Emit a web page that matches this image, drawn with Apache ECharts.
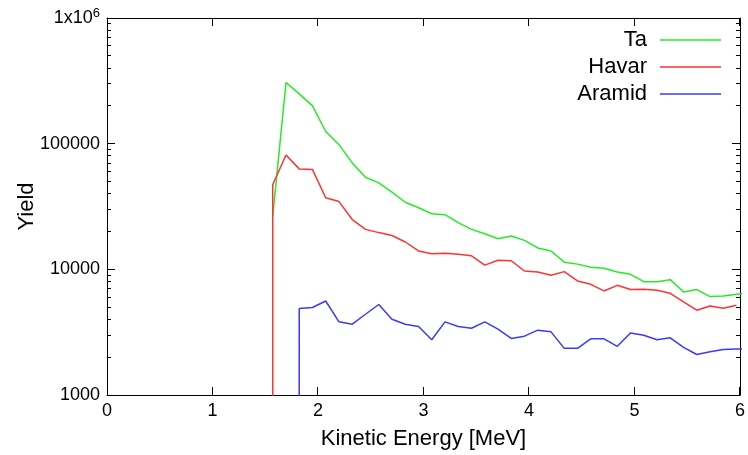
<!DOCTYPE html>
<html>
<head>
<meta charset="utf-8">
<script src="https://cdn.jsdelivr.net/npm/echarts@6/dist/echarts.min.js"></script>
<style>
html,body{margin:0;padding:0;background:#fff;}
#chart{width:748px;height:455px;}
</style>
</head>
<body>
<div id="chart"></div>
<script>
// ---- data ----
const energy = [1.571, 1.697, 1.822, 1.948, 2.073, 2.199, 2.325, 2.450, 2.576, 2.701,
  2.827, 2.953, 3.078, 3.204, 3.329, 3.455, 3.581, 3.706, 3.832, 3.957,
  4.083, 4.209, 4.334, 4.460, 4.585, 4.711, 4.837, 4.962, 5.088, 5.213,
  5.339, 5.465, 5.590, 5.716, 5.841, 5.967, 6.092];
const taYield = [26500, 307000, 249000, 200000, 125000, 98200, 70300, 54000, 48800, 41100,
  34200, 30900, 27700, 27200, 23500, 20800, 19200, 17500, 18400, 17000,
  14800, 14000, 11400, 11000, 10400, 10200, 9520, 9120, 7980, 7980,
  8280, 6600, 6900, 6070, 6140, 6330, 6450];
const havarYield = [47300, 81300, 63000, 62200, 37100, 34600, 24900, 20800, 19600, 18600,
  16500, 14000, 13300, 13400, 13200, 12800, 10800, 11800, 11700, 9700,
  9520, 8960, 9590, 8080, 7600, 6730, 7460, 6900, 6940, 6810,
  6450, 5500, 4730, 5110, 4900, 5180, null];
const aramidYield = [null, null, 4880, 4970, 5600, 3820, 3660, 4390, 5250, 4010,
  3660, 3510, 2750, 3820, 3510, 3400, 3820, 3340, 2820, 2940,
  3280, 3180, 2350, 2350, 2800, 2800, 2440, 3120, 2990, 2750,
  2850, 2390, 2100, 2210, 2300, 2320, 2330];
// yield just below the onset (below the axis floor, drawn as a vertical drop)
const havarOnset = {energy: 1.571, yield: 100};
const aramidOnset = {energy: 1.822, yield: 100};

const xTicks = [0, 1, 2, 3, 4, 5, 6];
const yMajorTicks = [1000, 10000, 100000, 1000000];
const yMinorTicks = [2000, 3000, 4000, 5000, 6000, 7000, 8000, 9000,
  20000, 30000, 40000, 50000, 60000, 70000, 80000, 90000,
  200000, 300000, 400000, 500000, 600000, 700000, 800000, 900000];

const X_MIN = 0, X_MAX = 6, Y_MIN = 1000, Y_MAX = 1000000;

function pairs(vals, onset) {
  const out = [];
  if (onset) out.push([onset.energy, onset.yield]);
  vals.forEach((v, i) => { if (v !== null) out.push([energy[i], v]); });
  return out;
}

const FONT = '"Liberation Sans", Arial, sans-serif';
const TICK_STYLE = {stroke: '#000', lineWidth: 1};
const chart = echarts.init(document.getElementById('chart'));

function crisp(v) { return Math.round(v - 0.5) + 0.5; }

// inward tick marks on all four sides, placed through the axes' own scales
function xTickRender(params, api) {
  const x = api.value(0);
  const b = api.coord([x, Y_MIN]);
  const t = api.coord([x, Y_MAX]);
  const px = crisp(b[0]);
  return {type: 'group', children: [
    {type: 'line', shape: {x1: px, y1: b[1], x2: px, y2: b[1] - 8}, style: TICK_STYLE},
    {type: 'line', shape: {x1: px, y1: t[1], x2: px, y2: t[1] + 8}, style: TICK_STYLE}
  ]};
}
function yTickRenderer(len) {
  return function (params, api) {
    const y = api.value(1);
    const l = api.coord([X_MIN, y]);
    const r = api.coord([X_MAX, y]);
    const py = crisp(l[1]);
    return {type: 'group', children: [
      {type: 'line', shape: {x1: l[0], y1: py, x2: l[0] + len, y2: py}, style: TICK_STYLE},
      {type: 'line', shape: {x1: r[0], y1: py, x2: r[0] - len, y2: py}, style: TICK_STYLE}
    ]};
  };
}

chart.setOption({
  animation: false,
  grid: {left: 107, right: 8, top: 18, bottom: 59},
  legend: {
    orient: 'vertical', align: 'right', right: 27, top: 29, padding: 0,
    icon: 'rect', itemWidth: 61, itemHeight: 1.5, itemGap: 5,
    textStyle: {fontSize: 22, fontFamily: FONT, color: '#000', lineHeight: 22, padding: [0, 8, 0, 0]},
    data: ['Ta', 'Havar', 'Aramid']
  },
  xAxis: [
    {type: 'value', min: X_MIN, max: X_MAX, interval: 1, position: 'bottom',
      name: 'Kinetic Energy [MeV]', nameLocation: 'middle', nameGap: 33, nameMoveOverlap: false,
      nameTextStyle: {fontSize: 22, fontFamily: FONT, color: '#000'},
      axisLine: {show: true, onZero: false, lineStyle: {color: '#000', width: 1}},
      axisTick: {show: false},
      axisLabel: {show: true, margin: 7, fontSize: 18, fontFamily: FONT, color: '#000'},
      splitLine: {show: false}},
    {type: 'value', min: X_MIN, max: X_MAX, interval: 1, position: 'top',
      axisLine: {show: true, onZero: false, lineStyle: {color: '#000', width: 1}},
      axisTick: {show: false}, axisLabel: {show: false}, splitLine: {show: false}}
  ],
  yAxis: [
    {type: 'log', min: Y_MIN, max: Y_MAX, position: 'left',
      name: 'Yield', nameLocation: 'middle', nameGap: 69, nameRotate: 90, nameMoveOverlap: false,
      nameTextStyle: {fontSize: 22, fontFamily: FONT, color: '#000'},
      axisLine: {show: true, onZero: false, lineStyle: {color: '#000', width: 1}},
      axisTick: {show: false},
      axisLabel: {show: true, customValues: yMajorTicks, margin: 7, color: '#000',
        fontFamily: FONT, fontSize: 18,
        formatter: function (v) { return v >= 999999 ? '1x10{sup|6}' : String(Math.round(v)); },
        rich: {sup: {fontSize: 13, fontFamily: FONT, color: '#000', verticalAlign: 'top', padding: [0, 0, 9, 0]}}},
      splitLine: {show: false}},
    {type: 'log', min: Y_MIN, max: Y_MAX, position: 'right',
      axisLine: {show: true, onZero: false, lineStyle: {color: '#000', width: 1}},
      axisTick: {show: false}, axisLabel: {show: false}, splitLine: {show: false}}
  ],
  series: [
    {name: 'Ta', type: 'line', data: pairs(taYield, null), symbol: 'none', z: 2,
      lineStyle: {color: '#22ee22', width: 1.5}, itemStyle: {color: '#22ee22'}},
    {name: 'Havar', type: 'line', data: pairs(havarYield, havarOnset), symbol: 'none', z: 2,
      lineStyle: {color: '#ff3333', width: 1.5}, itemStyle: {color: '#ff3333'}},
    {name: 'Aramid', type: 'line', data: pairs(aramidYield, aramidOnset), symbol: 'none', z: 2,
      lineStyle: {color: '#3a3aff', width: 1.5}, itemStyle: {color: '#3a3aff'}},
    {name: 'xTicks', type: 'custom', coordinateSystem: 'cartesian2d', silent: true, clip: false, z: 5,
      data: xTicks.map(v => [v, Y_MIN]), renderItem: xTickRender},
    {name: 'yMajor', type: 'custom', coordinateSystem: 'cartesian2d', silent: true, clip: false, z: 5,
      data: yMajorTicks.map(v => [X_MIN, v]), renderItem: yTickRenderer(8)},
    {name: 'yMinor', type: 'custom', coordinateSystem: 'cartesian2d', silent: true, clip: false, z: 5,
      data: yMinorTicks.map(v => [X_MIN, v]), renderItem: yTickRenderer(4)}
  ]
});
</script>
</body>
</html>
